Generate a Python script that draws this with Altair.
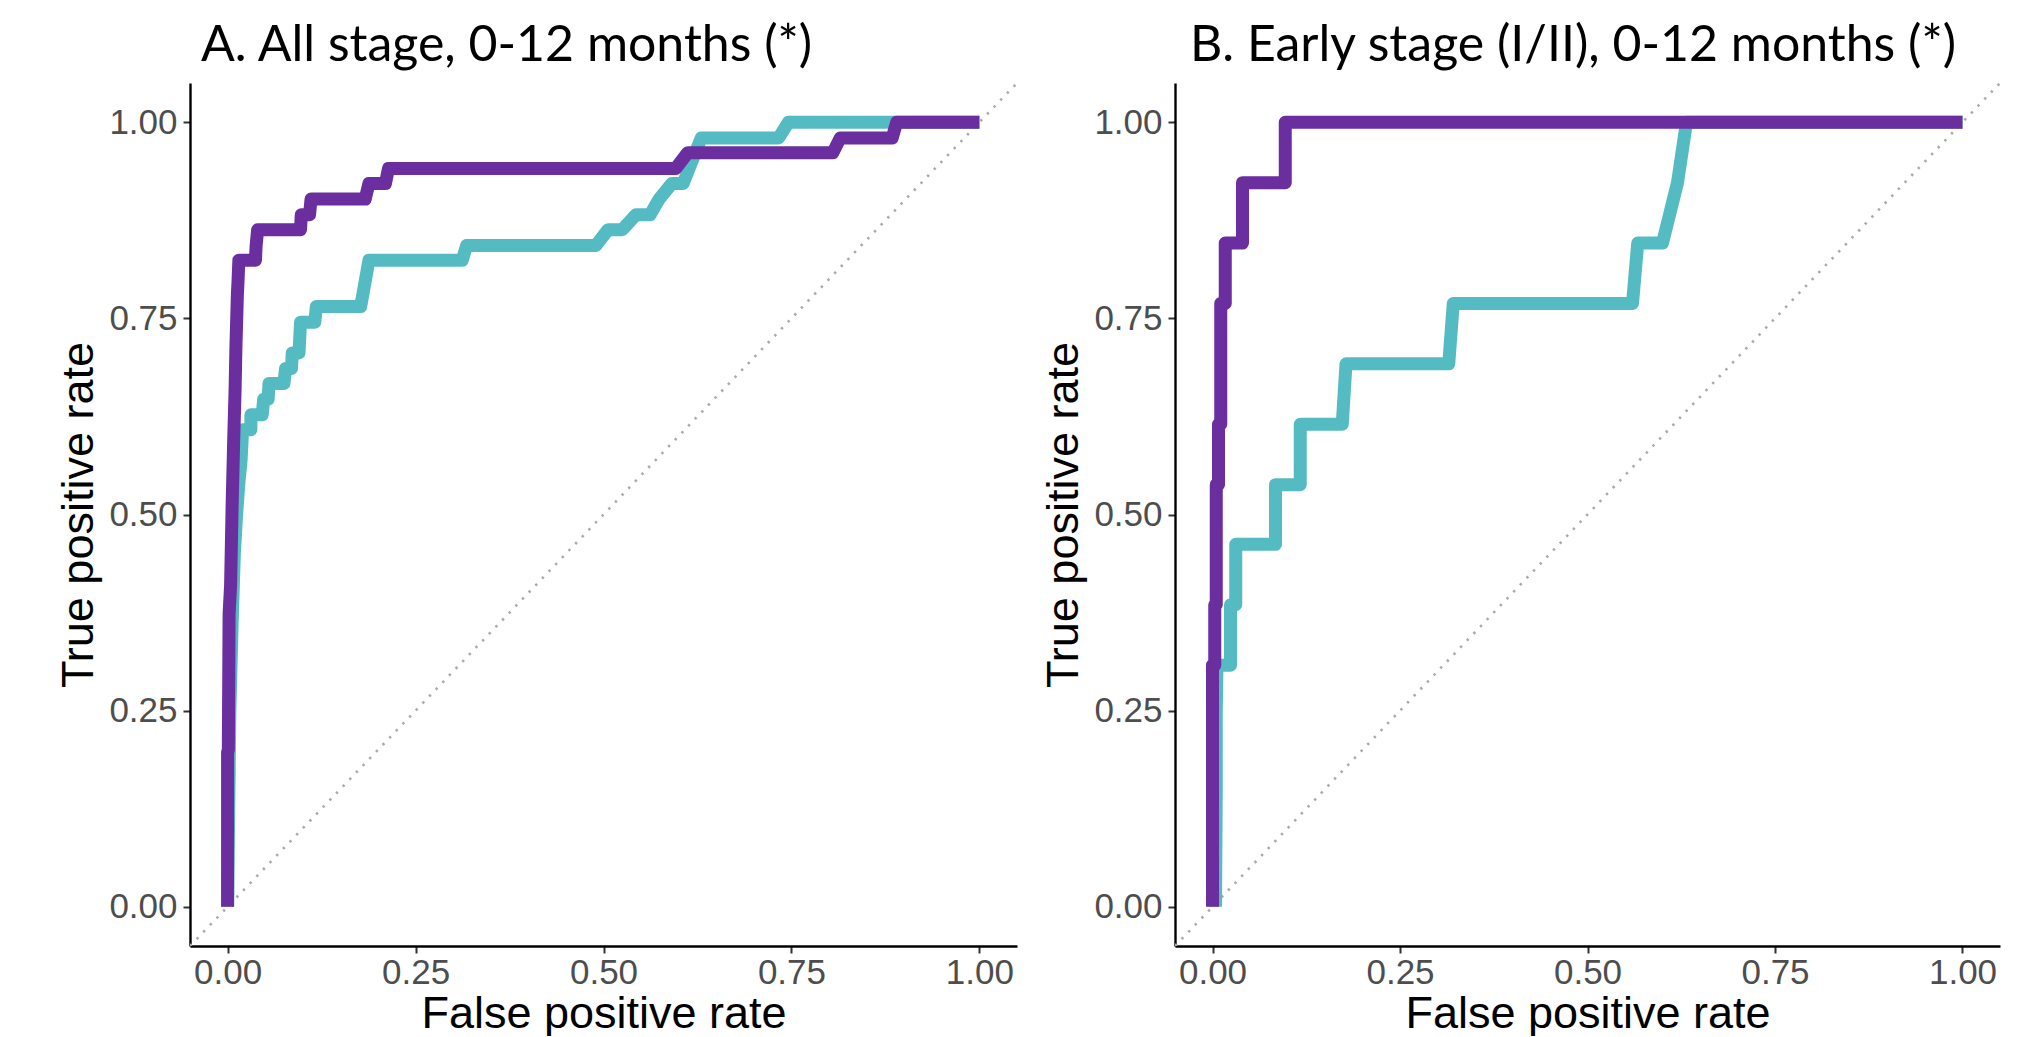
import altair as alt
import pandas as pd

# ---------------- data ----------------
TICKS = [0.0, 0.25, 0.50, 0.75, 1.00]

# Panel A: All stage, 0-12 months
A_teal_fpr = [0.000, 0.003, 0.006, 0.009, 0.012, 0.015, 0.018, 0.020, 0.031, 0.031,
              0.046, 0.048, 0.054, 0.055, 0.075, 0.077, 0.085, 0.086, 0.095, 0.097,
              0.116, 0.118, 0.177, 0.188, 0.312, 0.318, 0.490, 0.506, 0.525, 0.543,
              0.562, 0.574, 0.591, 0.606, 0.630, 0.733, 0.746, 1.000]
A_teal_tpr = [0.000, 0.250, 0.360, 0.450, 0.500, 0.540, 0.570, 0.608, 0.608, 0.627,
              0.627, 0.647, 0.647, 0.667, 0.667, 0.686, 0.686, 0.706, 0.706, 0.745,
              0.745, 0.765, 0.765, 0.824, 0.824, 0.843, 0.843, 0.863, 0.863, 0.882,
              0.882, 0.902, 0.922, 0.922, 0.980, 0.980, 1.000, 1.000]

A_purple_fpr = [0.000, 0.000, 0.001, 0.002, 0.004, 0.006, 0.008, 0.010, 0.011, 0.013,
                0.014, 0.015, 0.037, 0.038, 0.040, 0.097, 0.098, 0.109, 0.111, 0.183,
                0.188, 0.210, 0.214, 0.596, 0.612, 0.805, 0.815, 0.884, 0.890, 1.000]
A_purple_tpr = [0.000, 0.197, 0.200, 0.373, 0.410, 0.510, 0.590, 0.660, 0.710, 0.780,
                0.800, 0.824, 0.824, 0.843, 0.863, 0.863, 0.882, 0.882, 0.902, 0.902,
                0.922, 0.922, 0.941, 0.941, 0.961, 0.961, 0.980, 0.980, 1.000, 1.000]

# Panel B: Early stage (I/II), 0-12 months
B_teal_fpr = [0.004, 0.005, 0.005, 0.006, 0.024, 0.024, 0.031, 0.031, 0.084, 0.084,
              0.117, 0.117, 0.173, 0.178, 0.315, 0.321, 0.560, 0.567, 0.600, 0.620,
              0.632, 1.000]
B_teal_tpr = [0.000, 0.150, 0.250, 0.308, 0.308, 0.385, 0.385, 0.462, 0.462, 0.538,
              0.538, 0.615, 0.615, 0.692, 0.692, 0.769, 0.769, 0.846, 0.846, 0.923,
              1.000, 1.000]

B_purple_fpr = [0.000, 0.000, 0.003, 0.003, 0.005, 0.005, 0.008, 0.008, 0.011, 0.011,
                0.017, 0.017, 0.040, 0.040, 0.097, 0.097, 1.000]
B_purple_tpr = [0.000, 0.308, 0.308, 0.385, 0.385, 0.538, 0.538, 0.615, 0.615, 0.769,
                0.769, 0.846, 0.846, 0.923, 0.923, 1.000, 1.000]

DIAG = [-0.05, 1.05]

TITLE_A = "A. All stage, 0-12 months (*)"
TITLE_B = "B. Early stage (I/II), 0-12 months (*)"
X_TITLE = "False positive rate"
Y_TITLE = "True positive rate"

TEAL = "#55bbc2"
PURPLE = "#6a2e9f"


def roc_df(fpr, tpr):
    return pd.DataFrame({"fpr": fpr, "tpr": tpr, "step": list(range(len(fpr)))})


def panel(title, dx, teal, purple, width):
    xs = alt.Scale(domain=[-0.05, 1.05], nice=False, zero=False)
    ys = alt.Scale(domain=[-0.05, 1.05], nice=False, zero=False)
    x = alt.X("fpr:Q", scale=xs,
              axis=alt.Axis(values=TICKS, format=".2f", title=X_TITLE,
                            labelPadding=2, titlePadding=1))
    y = alt.Y("tpr:Q", scale=ys,
              axis=alt.Axis(values=TICKS, format=".2f", title=Y_TITLE))
    diag = alt.Chart(pd.DataFrame({"fpr": DIAG, "tpr": DIAG})).mark_line(
        color="#aaaaaa", strokeWidth=2.6, strokeDash=[2.4, 7.2], clip=True
    ).encode(x=x, y=y)
    t = alt.Chart(roc_df(*teal)).mark_line(
        color=TEAL, strokeWidth=13, strokeJoin="round", strokeCap="butt"
    ).encode(x=x, y=y, order="step:Q")
    p = alt.Chart(roc_df(*purple)).mark_line(
        color=PURPLE, strokeWidth=13, strokeJoin="round", strokeCap="butt"
    ).encode(x=x, y=y, order="step:Q")
    return alt.layer(diag, t, p).properties(
        width=width, height=863,
        title=alt.TitleParams(
            title, anchor="start", frame="group", dx=dx, offset=-28,
            baseline="alphabetic", font="Lato", fontSize=50,
            fontWeight="normal", color="black",
        ),
    )


pa = panel(TITLE_A, 11, (A_teal_fpr, A_teal_tpr), (A_purple_fpr, A_purple_tpr), 827)
pb = panel(TITLE_B, 15, (B_teal_fpr, B_teal_tpr), (B_purple_fpr, B_purple_tpr), 825)

chart = alt.hconcat(pa, pb, spacing=24).properties(
    padding={"left": 48, "top": 13, "right": 5, "bottom": 0}
).configure_view(stroke=None).configure_axis(
    grid=False,
    domainColor="black", domainWidth=2.4,
    tickColor="#333333", tickWidth=2, tickSize=7,
    labelFont="Liberation Sans", labelFontSize=35, labelColor="#4d4d4d",
    labelPadding=6, labelFlush=False,
    titleFont="Liberation Sans", titleFontSize=45, titleFontWeight="normal",
    titleColor="black", titlePadding=7,
)

chart.save("out.html", embed_options={"renderer": "svg", "actions": False})
